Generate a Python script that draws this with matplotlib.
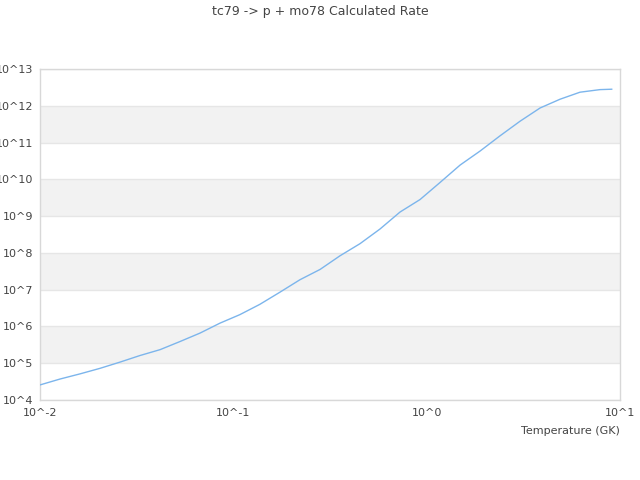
import numpy as np
import matplotlib
matplotlib.use('Agg')
import matplotlib.pyplot as plt
from matplotlib.ticker import FixedLocator, FixedFormatter

# temperatures (GK) and rates
temperature = [0.01, 0.0127, 0.0161, 0.0204, 0.0259, 0.0329, 0.0418, 0.053, 0.0673, 0.0853,
               0.108, 0.137, 0.174, 0.221, 0.281, 0.356, 0.452, 0.574, 0.728, 0.924,
               1.17, 1.49, 1.89, 2.39, 3.04, 3.86, 4.90, 6.21, 7.88, 9.06]
rate = [2.57e4, 3.72e4, 5.13e4, 7.24e4, 1.07e5, 1.62e5, 2.34e5, 3.89e5, 6.61e5, 1.23e6,
        2.09e6, 3.98e6, 8.51e6, 1.86e7, 3.55e7, 8.32e7, 1.78e8, 4.47e8, 1.29e9, 2.82e9,
        8.13e9, 2.45e10, 5.89e10, 1.51e11, 3.80e11, 8.71e11, 1.51e12, 2.34e12, 2.75e12, 2.82e12]

x_ticks = [1e-2, 1e-1, 1e0, 1e1]
x_labels = ['10^-2', '10^-1', '10^0', '10^1']
y_exps = list(range(4, 14))

title = 'tc79 -> p + mo78 Calculated Rate'
x_title = 'Temperature (GK)'

TEXT = '#444444'
GRID = '#e6e6e6'

fig = plt.figure(figsize=(6.4, 4.8), dpi=100)
ax = fig.add_axes([40 / 640, 1 - 400 / 480, 580 / 640, 331 / 480])

ax.set_xscale('log')
ax.set_yscale('log')
ax.set_xlim(1e-2, 1e1)
ax.set_ylim(1e4, 1e13)

# alternate bands + horizontal grid lines
for i, e in enumerate(y_exps[:-1]):
    if i % 2 == 1:
        ax.axhspan(10.0 ** e, 10.0 ** (e + 1), color='#f2f2f2', lw=0, zorder=0)
for e in y_exps:
    ax.axhline(10.0 ** e, color=GRID, lw=1, zorder=1)

ax.plot(temperature, rate, color='#7cb5ec', lw=1, zorder=3)

ax.xaxis.set_major_locator(FixedLocator(x_ticks))
ax.xaxis.set_major_formatter(FixedFormatter(x_labels))
ax.xaxis.set_minor_locator(FixedLocator([]))
ax.yaxis.set_major_locator(FixedLocator([10.0 ** e for e in y_exps]))
ax.yaxis.set_major_formatter(FixedFormatter(['10^%d' % e for e in y_exps]))
ax.yaxis.set_minor_locator(FixedLocator([]))

ax.tick_params(axis='both', length=0, labelsize=8, labelcolor=TEXT)
ax.tick_params(axis='x', pad=6)
ax.tick_params(axis='y', pad=5)

for s in ax.spines.values():
    s.set_color('#d8d8d8')
    s.set_linewidth(1)

fig.text(0.5, 1 - 12 / 480, title, ha='center', va='center', fontsize=9, color=TEXT)
fig.text(620 / 640, 1 - 431 / 480, x_title, ha='right', va='center', fontsize=8, color=TEXT)

fig.savefig('out.png', dpi=100)
